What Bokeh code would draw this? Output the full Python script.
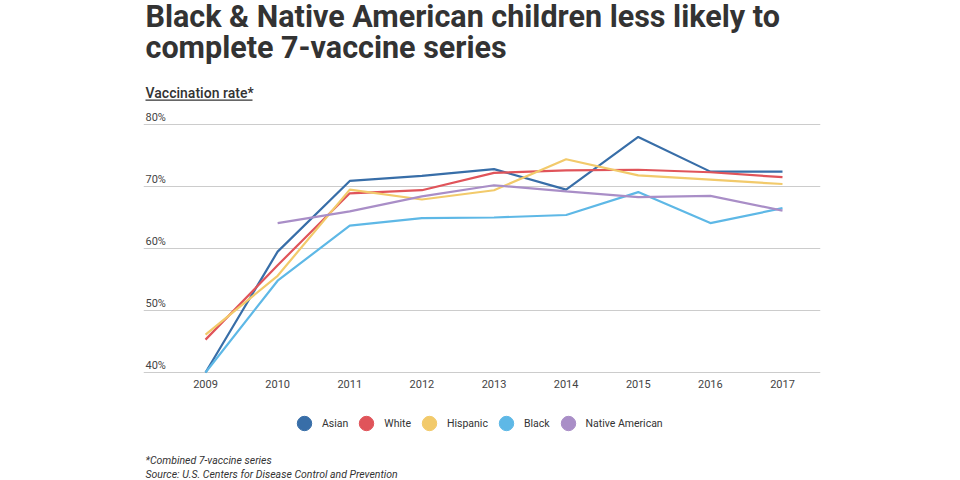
import math
from bokeh.plotting import figure
from bokeh.layouts import column
from bokeh.models import (Range1d, FixedTicker, Legend, LegendItem, Grid, Title,
                          Label, LabelSet, ColumnDataSource, BoxAnnotation)
from bokeh.core.properties import value
from bokeh.embed import file_html
from bokeh.resources import INLINE

# ---------------- data ----------------
years = [2009, 2010, 2011, 2012, 2013, 2014, 2015, 2016, 2017]
year_labels = ["2009", "2010", "2011", "2012", "2013", "2014", "2015", "2016", "2017"]

asian = [40.0, 59.5, 70.9, 71.7, 72.8, 69.5, 78.0, 72.4, 72.4]
white = [45.3, 57.3, 68.9, 69.4, 72.2, 72.6, 72.7, 72.3, 71.5]
hispanic = [46.1, 55.6, 69.5, 67.9, 69.4, 74.4, 71.8, 71.1, 70.4]
black = [40.0, 54.8, 63.7, 64.9, 65.0, 65.4, 69.1, 64.1, 66.5]
native_american = [math.nan, 64.1, 66.0, 68.4, 70.2, 69.2, 68.3, 68.5, 66.1]

series_names = ["Asian", "White", "Hispanic", "Black", "Native American"]
series_values = [asian, white, hispanic, black, native_american]
series_colors = ["#386ea8", "#e0545a", "#f2ca6b", "#5eb8e6", "#a98ec7"]

y_ticks = [40, 50, 60, 70, 80]
y_tick_labels = ["40%", "50%", "60%", "70%", "80%"]

title_lines = ["Black & Native American children less likely to",
               "complete 7-vaccine series"]
subtitle_text = "Vaccination rate*"
footnotes = ["*Combined 7-vaccine series",
             "Source: U.S. Centers for Disease Control and Prevention"]

# ---------------- layout constants (canvas px) ----------------
W = 960
MAIN_H, FOOT_H = 400, 80
FRAME_L, FRAME_R, FRAME_T, FRAME_B = 143, 820, 72, 376
X_START, X_END = 2008.14, 2017.527
Y_START = 40 - 4 / 6.2
Y_END = 80 + (124 - FRAME_T) / 6.2
PX_X = (FRAME_R - FRAME_L) / (X_END - X_START)
PX_Y = (FRAME_B - FRAME_T) / (Y_END - Y_START)


def xd(px):
    return X_START + (px - FRAME_L) / PX_X


def yd(py):
    return Y_START + (FRAME_B - py) / PX_Y


FONT = "Roboto"
INK = "#333333"

# ---------------- main chart ----------------
p = figure(width=W, height=MAIN_H, output_backend="svg", toolbar_location=None,
           x_range=Range1d(X_START, X_END), y_range=Range1d(Y_START, Y_END),
           y_axis_location=None, title=None,
           min_border_left=FRAME_L, min_border_right=W - FRAME_R,
           min_border_top=FRAME_T, min_border_bottom=MAIN_H - FRAME_B)
p.outline_line_color = None
p.background_fill_color = "white"
p.border_fill_color = "white"
p.xgrid.visible = False
p.ygrid.visible = False

p.add_layout(Grid(dimension=1, ticker=FixedTicker(ticks=y_ticks),
                  grid_line_color="#cccccc", grid_line_width=1))

xa = p.xaxis[0]
xa.ticker = FixedTicker(ticks=years)
xa.major_label_overrides = {y: l for y, l in zip(years, year_labels)}
xa.axis_line_color = None
xa.major_tick_line_color = None
xa.minor_tick_line_color = None
xa.major_tick_in = 0
xa.major_tick_out = 0
xa.major_label_standoff = 3
xa.major_label_text_font = FONT
xa.major_label_text_font_size = "11px"
xa.major_label_text_color = "#444444"

# y tick labels sit above their grid lines
tick_src = ColumnDataSource(dict(x=[X_START] * len(y_ticks), y=y_ticks, text=y_tick_labels))
p.add_layout(LabelSet(x="x", y="y", text="text", source=tick_src,
                      x_offset=2, y_offset=3.5, text_align="left",
                      text_baseline="alphabetic", text_font=value(FONT),
                      text_font_size="11px", text_color="#444444"))

for name, vals, color in zip(series_names, series_values, series_colors):
    p.line(years, vals, line_color=color, line_width=2.2)

# headings (first added sits closest to the plot)
p.add_layout(Title(text=title_lines[1], align="left", offset=2, text_font=FONT,
                   text_font_size="30.5px", text_font_style="bold",
                   text_color=INK, standoff=16), "above")
p.add_layout(Title(text=title_lines[0], align="left", offset=2, text_font=FONT,
                   text_font_size="30.5px", text_font_style="bold",
                   text_color=INK, standoff=-29), "above")

# axis heading with underline
p.add_layout(Label(x=xd(145), y=yd(92.2), text=subtitle_text, text_font="Roboto Medium",
                   text_font_size="14px", text_color=INK, text_align="left",
                   text_baseline="middle"))
p.add_layout(BoxAnnotation(left=xd(145), right=xd(252), top=yd(99), bottom=yd(100.3),
                           fill_color=INK, fill_alpha=1, line_color=None))

# ---------------- legend + footnotes strip ----------------
f = figure(width=W, height=FOOT_H, output_backend="svg", toolbar_location=None,
           x_range=Range1d(FRAME_L, FRAME_R), y_range=Range1d(MAIN_H + FOOT_H, MAIN_H),
           x_axis_location=None, y_axis_location=None, title=None,
           min_border_left=FRAME_L, min_border_right=W - FRAME_R,
           min_border_top=0, min_border_bottom=0)
f.outline_line_color = None
f.background_fill_color = "white"
f.border_fill_color = "white"
f.xgrid.visible = False
f.ygrid.visible = False

legend_items = []
for name, color in zip(series_names, series_colors):
    icon = f.scatter(x=[math.nan], y=[math.nan], marker="circle", size=15,
                     fill_color=color, line_color=color)
    legend_items.append(LegendItem(label=name, renderers=[icon]))

legend = Legend(items=legend_items, orientation="horizontal",
                location=(286 - FRAME_L, MAIN_H + FOOT_H - 442),
                glyph_width=36, glyph_height=38, label_standoff=0, spacing=0,
                padding=0, margin=0, border_line_color=None,
                background_fill_alpha=0, label_text_font=FONT,
                label_text_font_size="10.5px", label_text_color=INK)
f.add_layout(legend, "center")

for text, mid in zip(footnotes, [460.3, 473.6]):
    f.add_layout(Label(x=145, y=mid, text=text, text_font=FONT,
                       text_font_size="10.5px", text_font_style="italic",
                       text_color=INK, text_align="left", text_baseline="middle"))

layout = column(p, f, spacing=0)
open("out.html", "w").write(file_html(layout, INLINE))
